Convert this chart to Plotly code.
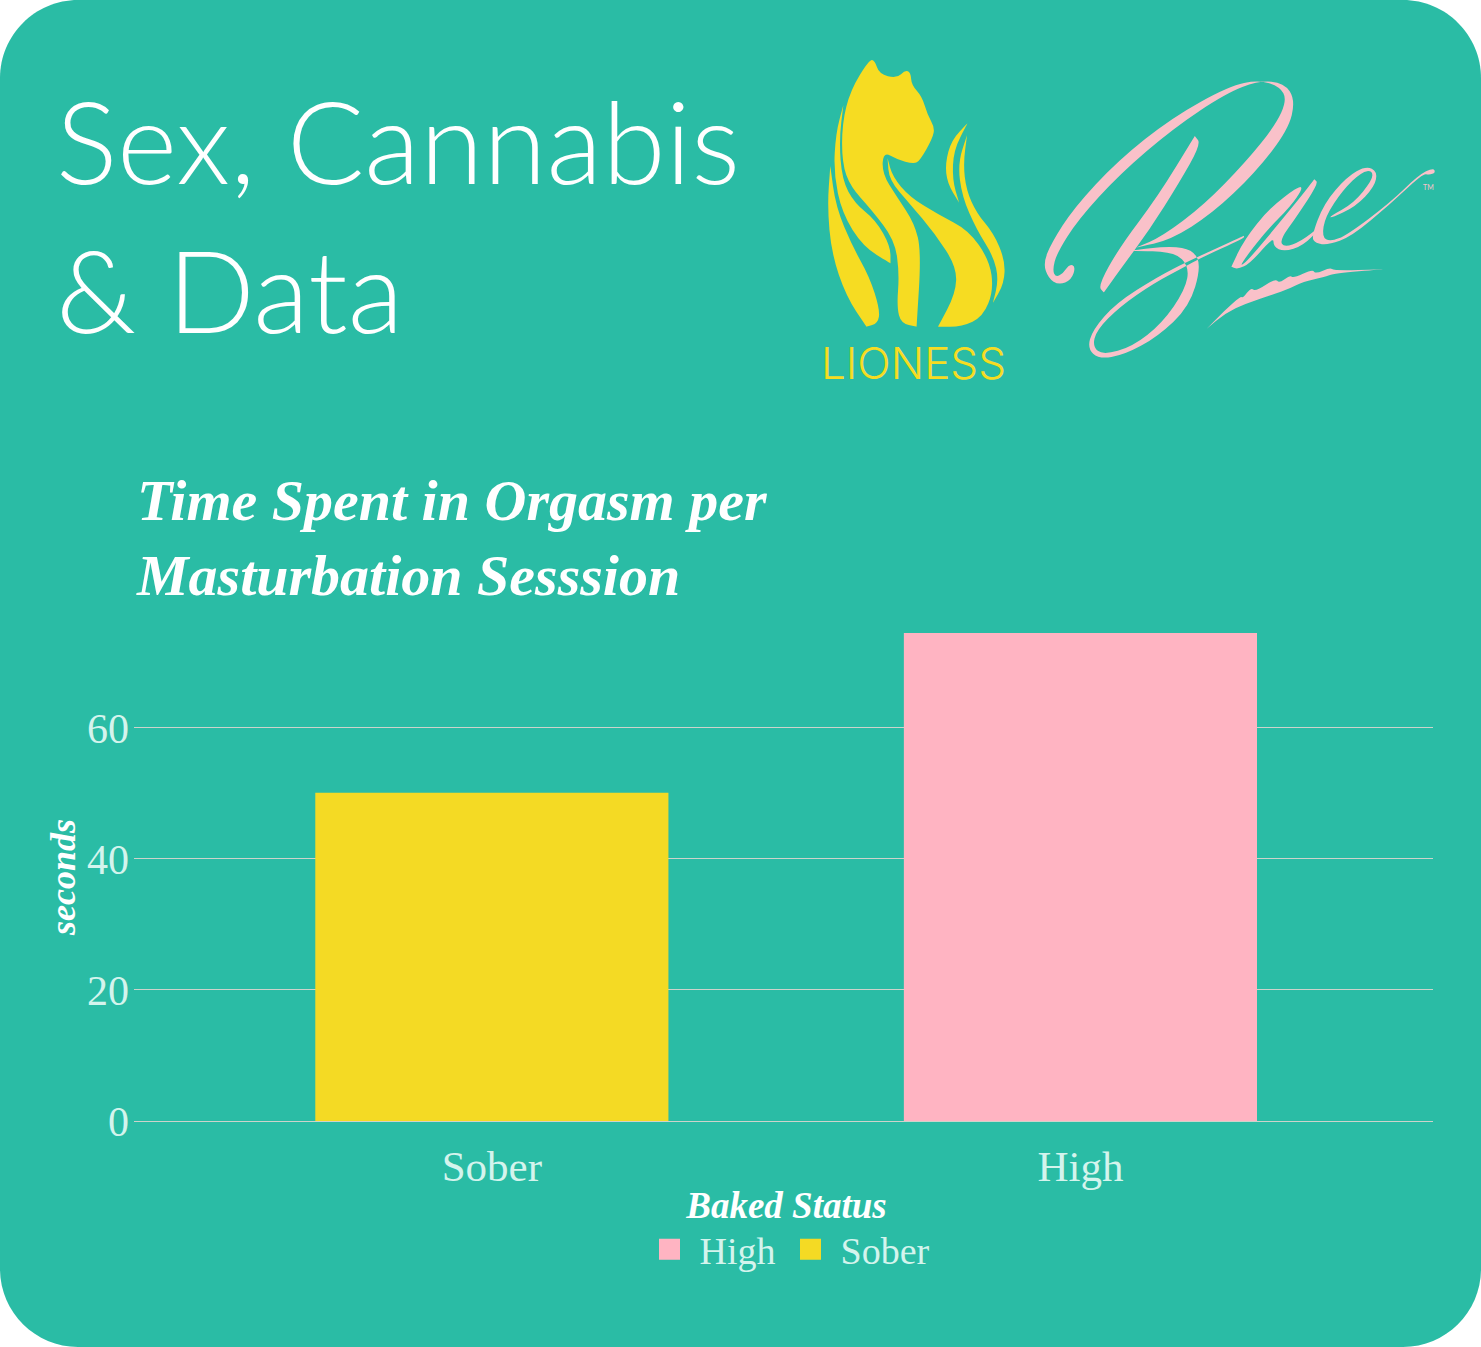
import plotly.graph_objects as go

# ---- data ----
categories = ["Sober", "High"]
sober_values = [50.1]
high_values = [74.5]
y_ticks = [0, 20, 40, 60]
heading_lines = ["Sex, Cannabis", "&amp; Data"]
chart_title = "Time Spent in Orgasm per<br>Masturbation Sesssion"

W, H = 1481, 1347
TEAL = "#2abca5"
YELLOW = "#f4da24"
PINK = "#ffb4c2"
LOGO_Y = "#f6dc22"
LOGO_P = "#f9c1c9"
MINT = "#d4f4ed"
GRID = "#cdd3cb"


def fx(x):
    return x / W


def fy(y):
    return 1 - y / H


def pc(x, y):
    return f"{fx(x):.5f},{fy(y):.5f}"


def zoomed(p):
    return (800 + p[0] / 2.376, 40 + p[1] / 3)


def blob(points, color):
    """Decorative logo outline, given in reference-crop coordinates."""
    pts = [zoomed(p) for p in points]
    n = len(pts)
    mids = [((pts[i][0] + pts[(i + 1) % n][0]) / 2, (pts[i][1] + pts[(i + 1) % n][1]) / 2) for i in range(n)]
    d = "M" + pc(*mids[-1])
    for i in range(n):
        d += " Q" + pc(*pts[i]) + " " + pc(*mids[i])
    return dict(type="path", xref="paper", yref="paper", path=d + " Z", fillcolor=color,
                line=dict(width=0), layer="above")


R = 78
card = (
    f"M{pc(R,0)} L{pc(W-R,0)} C{pc(W-R*.45,0)} {pc(W,R*.45)} {pc(W,R)} "
    f"L{pc(W,H-R)} C{pc(W,H-R*.45)} {pc(W-R*.45,H)} {pc(W-R,H)} "
    f"L{pc(R,H)} C{pc(R*.45,H)} {pc(0,H-R*.45)} {pc(0,H-R)} "
    f"L{pc(0,R)} C{pc(0,R*.45)} {pc(R*.45,0)} {pc(R,0)} Z"
)

shapes = [dict(type="path", xref="paper", yref="paper", path=card, fillcolor=TEAL,
               line=dict(width=0), layer="below")]

# lioness logo
shapes += [
    blob([(165,58),(178,62),(188,102),(230,115),(250,90),(263,98),(265,135),(290,170),(303,225),(320,262),(315,295),
          (285,362),(270,372),(230,358),(198,335),(195,400),(230,470),(272,550),(288,635),(277,860),(277,860),(240,850),(230,800),
          (236,700),(225,600),(170,510),(120,440),(100,370),(100,250),(120,150)], LOGO_Y),
    blob([(103,195),(103,195),(85,280),(80,400),(100,520),(150,620),(215,670),(215,670),(215,620),(180,540),(130,490),(100,420),(93,300)], LOGO_Y),
    blob([(72,378),(72,378),(65,500),(75,640),(110,770),(158,860),(158,860),(185,850),(190,810),(165,710),(125,620),(85,500)], LOGO_Y),
    blob([(208,355),(208,355),(212,420),(260,490),(320,580),(372,680),(370,760),(328,860),(328,860),(385,860),(435,830),(460,750),(450,660),(400,570),(330,525),(260,470),(220,410)], LOGO_Y),
    blob([(398,250),(398,250),(360,300),(345,370),(350,430),(378,488),(378,488),(362,420),(365,330)], LOGO_Y),
    blob([(397,285),(397,285),(375,370),(385,470),(420,570),(460,650),(472,720),(458,790),(458,790),(485,730),(487,660),(460,580),(420,520),(395,450),(388,370)], LOGO_Y),
]

# bae logo
shapes += [
    blob([(655,680),(640,672),(625,700),(608,712),(600,690),(610,640),(660,540),(760,402),(888,264),(1012,160),(1090,122),(1150,128),(1177,180),
          (1160,270),(1080,400),(980,520),(880,600),(800,622),(800,622),(860,590),(960,495),(1060,365),(1130,255),(1157,180),(1140,140),(1090,120),
          (1020,138),(885,232),(755,362),(650,505),(597,610),(578,670),(590,715),(615,735),(645,720)], LOGO_P),
    blob([(938,288),(938,288),(953,312),(900,430),(830,570),(760,690),(722,757),(722,757),(708,738),(760,620),(850,470)], LOGO_P),
    blob([(785,632),(785,632),(880,618),(935,630),(953,680),(925,800),(850,890),(770,945),(710,957),(683,925),(695,870),(750,790),(850,710),(920,665),
          (1055,587),(1055,587),(1055,595),(950,655),(915,680),(840,730),(760,800),(705,870),(695,920),(720,945),(790,920),(860,850),(915,750),(925,680),(890,635)], LOGO_P),
    blob([(1025,680),(1025,680),(1055,600),(1115,505),(1185,438),(1195,445),(1165,500),(1110,570),(1060,650),(1045,680),(1065,660),(1125,570),
          (1190,470),(1222,418),(1222,418),(1232,430),(1180,530),(1140,600),(1150,622),(1190,605),(1240,555),(1240,560),(1195,618),(1150,635),(1125,620),
          (1125,590),(1070,670),(1040,688)], LOGO_P),
    blob([(1215,590),(1245,490),(1300,410),(1345,378),(1372,395),(1365,440),(1320,500),(1260,535),(1260,528),(1315,490),(1360,420),(1360,392),(1335,395),
          (1290,450),(1248,530),(1240,590),(1260,605),(1300,585),(1400,490),(1470,405),(1505,383),(1510,398),(1495,405),(1480,400),(1400,495),(1310,590),(1255,615),(1225,610)], LOGO_P),
    blob([(965,868),(965,868),(1010,810),(1048,768),(1052,775),(1072,742),(1082,755),(1130,715),(1138,730),(1165,705),(1172,715),(1218,688),(1225,702),
          (1260,682),(1268,692),(1385,688),(1385,688),(1270,700),(1245,712),(1195,725),(1165,745),(1120,765),(1060,790),(1010,820)], LOGO_P),
]


def note(text, x, y, size, color, family, weight=None):
    font = dict(size=size, color=color, family=family)
    if weight:
        font["weight"] = weight
    return dict(text=text, x=fx(x), y=fy(y), xref="paper", yref="paper", xanchor="left", yanchor="middle",
                showarrow=False, font=font)


annotations = [
    note(heading_lines[0], 54, 139, 115, "#ffffff", "Lato", 300),
    note(heading_lines[1], 54, 288, 115, "#ffffff", "Lato", 300),
    note("LIONESS", 819, 363, 44, LOGO_Y, "Inter", 300),
    note("TM", 1421, 187, 7, LOGO_P, "Lato"),
]

fig = go.Figure()
fig.add_bar(name="Sober", x=[categories[0]], y=sober_values, width=0.6, showlegend=False,
            marker=dict(color=YELLOW, line=dict(width=0)))
fig.add_bar(name="High", x=[categories[1]], y=high_values, width=0.6, showlegend=False,
            marker=dict(color=PINK, line=dict(width=0)))
# legend entries: square keys larger than a bar's fixed legend key
for name, color in [("Sober", YELLOW), ("High", PINK)]:
    fig.add_scatter(name=name, x=[None], y=[None], mode="markers",
                    marker=dict(symbol="square", size=16, color=color, line=dict(width=5, color=color)))

fig.update_layout(
    width=W, height=H,
    margin=dict(l=0, r=0, t=0, b=0, autoexpand=False),
    autosize=False,
    paper_bgcolor="#ffffff",
    plot_bgcolor="rgba(0,0,0,0)",
    barmode="overlay",
    shapes=shapes,
    annotations=annotations,
    font=dict(family="Liberation Serif", color=MINT),
    title=dict(text=chart_title, x=137 / W, xanchor="left", y=fy(520), yanchor="top", xref="container", yref="container",
               font=dict(family="Liberation Serif", size=58, color="#ffffff", style="italic", weight=700)),
    xaxis=dict(domain=[fx(134), fx(1433)], range=[-0.608, 1.599], type="category", categoryorder="array", categoryarray=categories,
               showgrid=False, zeroline=False, showline=False, ticks="", tickfont=dict(size=43, color=MINT), ticklabelstandoff=16),
    yaxis=dict(domain=[fy(1121), fy(633)], range=[0, 74.5], tickvals=y_ticks, showgrid=True, gridcolor=GRID, gridwidth=1.4,
               zeroline=True, zerolinecolor=GRID, zerolinewidth=1.4, showline=False, ticks="", ticklabelstandoff=4,
               tickfont=dict(size=42, color=MINT),
               title=dict(text="seconds", standoff=0, font=dict(family="Liberation Serif", size=36, color="#ffffff", style="italic", weight=700))),
    legend=dict(orientation="h", x=fx(787), xanchor="center", xref="paper", y=fy(1170), yanchor="top", yref="paper",
                traceorder="reversed", bgcolor="rgba(0,0,0,0)", font=dict(size=38, color=MINT), itemwidth=50,
                itemsizing="trace",
                title=dict(text="Baked Status", side="top center",
                           font=dict(family="Liberation Serif", size=37, color="#ffffff", style="italic", weight=700))),
)

fig.write_html("out.html", post_script="document.body.style.margin='0';", config={"displayModeBar": False})
